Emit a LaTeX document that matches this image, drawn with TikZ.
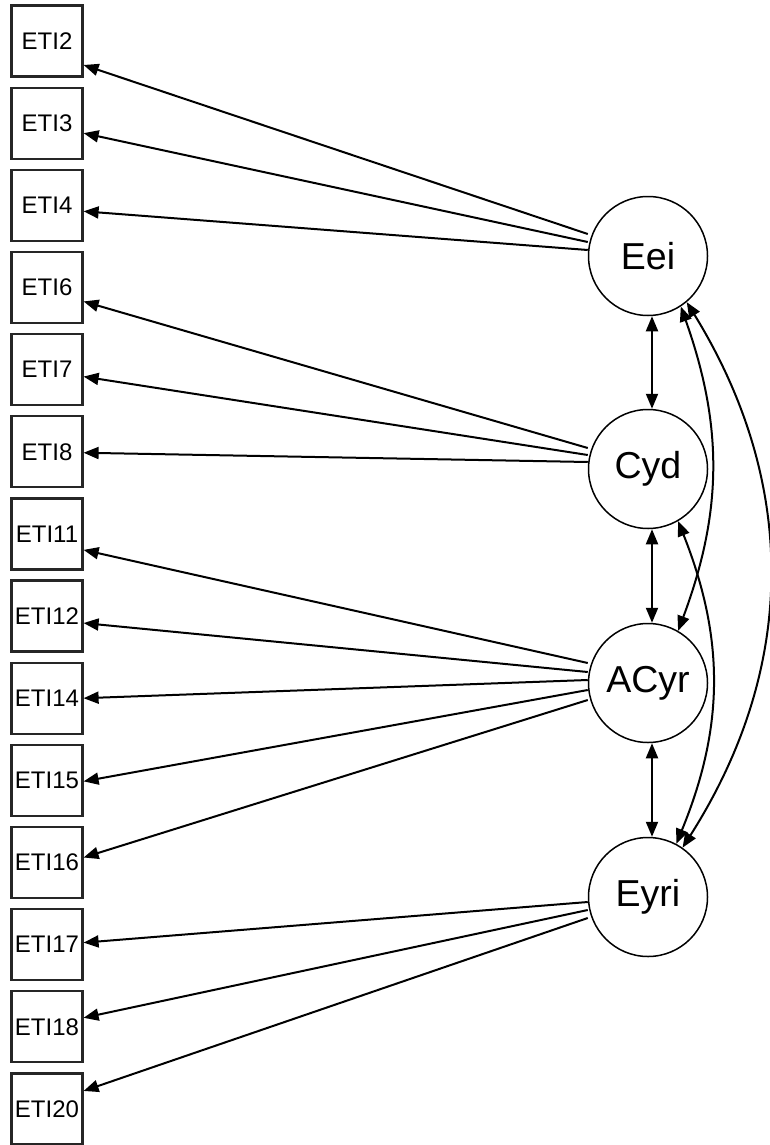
\documentclass[tikz,border=0pt]{standalone}
\usepackage{fontspec}
\setmainfont{Liberation Sans}
\usetikzlibrary{arrows.meta}
\begin{document}
\begin{tikzpicture}[x=1pt,y=-1pt,
 obs/.style={draw=black!85, line width=2.2pt, minimum width=71pt, minimum height=71pt, inner sep=0pt, font=\fontsize{24}{28}\selectfont},
 lat/.style={circle, draw, line width=1.5pt, minimum size=119pt, inner sep=0pt, font=\fontsize{37.5}{42}\selectfont},
 load/.style={line width=2pt, -{Triangle[length=15pt,width=12pt]}},
 cov/.style={line width=2pt, {Triangle[length=15pt,width=12pt]}-{Triangle[length=15pt,width=12pt]}}]
\useasboundingbox (0,0) rectangle (769,1145);
\foreach \n [count=\i from 0] in {2,3,4,6,7,8,11,12,14,15,16,17,18,20}
  \node[obs] (e\n) at (47,{41+82.15*\i}) {ETI\n};
\node[lat] (Eei) at (648,256) {Eei};
\node[lat] (Cyd) at (648,469) {Cyd};
\node[lat] (ACyr) at (648,683) {ACyr};
\node[lat] (Eyri) at (648,897) {Eyri};
% loadings
\draw[load] ([yshift=22pt]Eei.west) -- ([yshift=-24pt]e2.east);
\draw[load] ([yshift=14pt]Eei.west) -- ([yshift=-10pt]e3.east);
\draw[load] ([yshift=6pt]Eei.west) -- ([yshift=-6pt]e4.east);
\draw[load] ([yshift=21pt]Cyd.west) -- ([yshift=-14pt]e6.east);
\draw[load] ([yshift=14pt]Cyd.west) -- ([yshift=-7pt]e7.east);
\draw[load] ([yshift=7pt]Cyd.west) -- ([yshift=-1pt]e8.east);
\draw[load] ([yshift=20pt]ACyr.west) -- ([yshift=-16pt]e11.east);
\draw[load] ([yshift=11pt]ACyr.west) -- ([yshift=-7pt]e12.east);
\draw[load] ([yshift=3pt]ACyr.west) -- ([yshift=0pt]e14.east);
\draw[load] ([yshift=-7pt]ACyr.west) -- ([yshift=-1pt]e15.east);
\draw[load] ([yshift=-17pt]ACyr.west) -- ([yshift=5pt]e16.east);
\draw[load] ([yshift=-5pt]Eyri.west) -- ([yshift=2pt]e17.east);
\draw[load] ([yshift=-13pt]Eyri.west) -- ([yshift=9pt]e18.east);
\draw[load] ([yshift=-21pt]Eyri.west) -- ([yshift=18pt]e20.east);
% covariances
\draw[cov] ([xshift=4pt]Eei.south) -- ([xshift=4pt]Cyd.north);
\draw[cov] ([xshift=4pt]Cyd.south) -- ([xshift=4pt]ACyr.north);
\draw[cov] ([xshift=4pt]ACyr.south) -- ([xshift=4pt]Eyri.north);
\draw[cov] (Eei.-57) to[bend left=20] (ACyr.60);
\draw[cov] (Cyd.-60) to[bend left=22] (Eyri.62);
\draw[cov] (Eei.-50) to[bend left=32] (Eyri.55);
\end{tikzpicture}
\end{document}
